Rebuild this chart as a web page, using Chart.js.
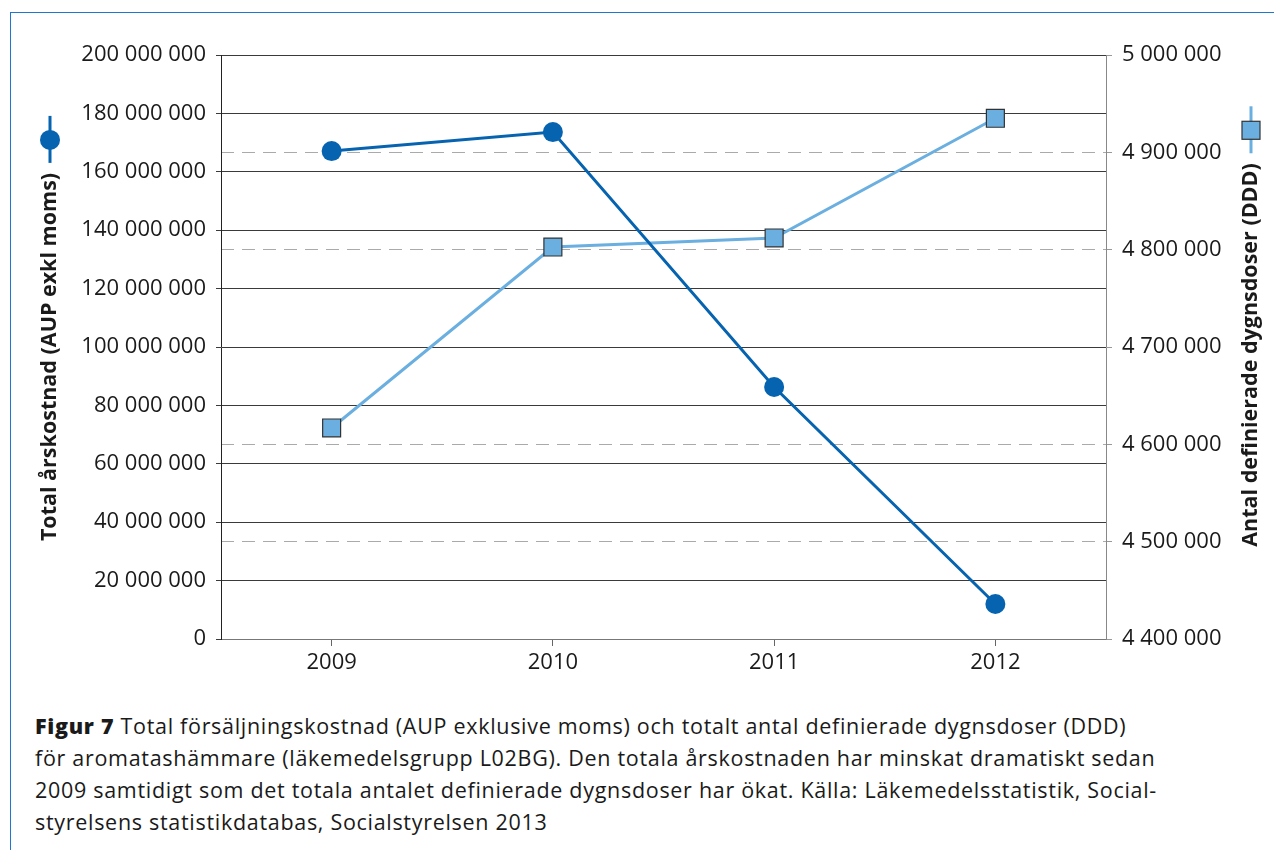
<!DOCTYPE html>
<html lang="sv">
<head>
<meta charset="utf-8">
<title>Figur 7</title>
<script src="https://cdn.jsdelivr.net/npm/chart.js@4"></script>
<style>
    body { margin: 0; background: #fff; font-family: "Open Sans", sans-serif; }
    .frame {
        position: absolute; left: 10px; top: 12px; width: 1300px; height: 900px;
        border-top: 1px solid #1f78cc; border-left: 1px solid #1f78cc;
    }
    #chartBox { position: absolute; left: 0; top: 0; }
    .caption {
        position: absolute; left: 35px; top: 710px;
        font-size: 21.5px; letter-spacing: 0.7px; line-height: 32px; color: #1a1a1a;
        white-space: nowrap;
    }
    .caption b { font-weight: 800; }
</style>
</head>
<body>
<div class="frame"></div>
<canvas id="chartBox" width="1274" height="700"></canvas>
<div class="caption">
    <b>Figur 7</b> Total försäljningskostnad (AUP exklusive moms) och totalt antal definierade dygnsdoser (DDD)<br>
    för aromatashämmare (läkemedelsgrupp L02BG). Den totala årskostnaden har minskat dramatiskt sedan<br>
    2009 samtidigt som det totala antalet definierade dygnsdoser har ökat. Källa: Läkemedelsstatistik, Social-<br>
    styrelsens statistikdatabas, Socialstyrelsen 2013
</div>

<script>
// --- data ---
const years = ['2009', '2010', '2011', '2012'];
const costValues = [167100000, 173600000, 86300000, 12000000];   // Total årskostnad (AUP exkl moms)
const dddValues = [4616800, 4802700, 4812000, 4935000];          // Antal DDD

const leftTitle = 'Total årskostnad (AUP exkl moms)';
const rightTitle = 'Antal definierade dygnsdoser (DDD)';

const darkBlue = '#0563b0';
const lightBlue = '#6aafe0';

// mellanslag som tusentalsavgränsare
function fmt(v) {
    return String(Math.round(v)).replace(/\B(?=(\d{3})+(?!\d))/g, ' ');
}

// axeltitlar med symbol (ritas själv för att få symbolen på slutet)
const axisTitlePlugin = {
    id: 'axisTitles',
    afterDraw(chart) {
        const ctx = chart.ctx;
        const area = chart.chartArea;
        const midY = (area.top + area.bottom) / 2 + 10;
        ctx.save();
        ctx.font = 'bold 21.5px "Open Sans"';
        ctx.fillStyle = '#1a1a1a';
        ctx.textAlign = 'center';
        ctx.textBaseline = 'middle';

        const drawTitle = (text, x, y, marker) => {
            const w = ctx.measureText(text).width;
            ctx.save();
            ctx.translate(x, y);
            ctx.rotate(-Math.PI / 2);
            ctx.fillText(text, 0, 0);
            ctx.restore();
            const end = y - w / 2;
            // liten linje + symbol
            ctx.strokeStyle = marker === 'circle' ? darkBlue : lightBlue;
            ctx.lineWidth = 3;
            ctx.beginPath();
            ctx.moveTo(x, end - 10);
            ctx.lineTo(x, end - 57);
            ctx.stroke();
            const cy = end - 33;
            if (marker === 'circle') {
                ctx.fillStyle = darkBlue;
                ctx.beginPath();
                ctx.arc(x, cy, 10, 0, Math.PI * 2);
                ctx.fill();
            } else {
                ctx.fillStyle = lightBlue;
                ctx.strokeStyle = '#333';
                ctx.lineWidth = 1.2;
                ctx.fillRect(x - 9, cy - 9, 18, 18);
                ctx.strokeRect(x - 9, cy - 9, 18, 18);
            }
            ctx.fillStyle = '#1a1a1a';
        };

        drawTitle(leftTitle, 50, midY, 'circle');
        drawTitle(rightTitle, 1251, midY - 2, 'rect');
        ctx.restore();
    }
};

const ctx = document.getElementById('chartBox').getContext('2d');
new Chart(ctx, {
    type: 'line',
    data: {
        labels: years,
        datasets: [
            {
                label: leftTitle,
                data: costValues,
                yAxisID: 'yCost',
                borderColor: darkBlue,
                backgroundColor: darkBlue,
                borderWidth: 3,
                pointStyle: 'circle',
                pointRadius: 10,
                pointHoverRadius: 10,
                pointBorderWidth: 0
            },
            {
                label: rightTitle,
                data: dddValues,
                yAxisID: 'yDdd',
                borderColor: lightBlue,
                backgroundColor: lightBlue,
                borderWidth: 3,
                pointStyle: 'rect',
                pointRadius: 12.7,
                pointHoverRadius: 12.7,
                pointBorderColor: '#333',
                pointBorderWidth: 1.2
            }
        ]
    },
    options: {
        responsive: false,
        animation: false,
        layout: { padding: { top: 55, left: 0, right: 0, bottom: 0 } },
        plugins: {
            legend: { display: false },
            tooltip: { enabled: false }
        },
        scales: {
            x: {
                offset: true,
                afterFit: s => { s.height = 61; },
                grid: { drawOnChartArea: false, drawTicks: true, tickLength: 7, tickColor: '#666' },
                border: { color: '#777', width: 1 },
                ticks: { color: '#1a1a1a', font: { family: 'Open Sans', size: 22 }, padding: 4 }
            },
            yCost: {
                position: 'left',
                min: 0,
                max: 200000000,
                afterFit: s => { s.width = 221; },
                grid: { color: '#3a3a3a', tickLength: 5, tickColor: '#3a3a3a' },
                border: { color: '#222', width: 1 },
                ticks: {
                    stepSize: 20000000,
                    color: '#1a1a1a',
                    padding: 10,
                    font: { family: 'Open Sans', size: 22 },
                    callback: v => fmt(v)
                }
            },
            yDdd: {
                position: 'right',
                min: 4400000,
                max: 5000000,
                afterFit: s => { s.width = 168; },
                grid: {
                    color: c => (c.index === 0 || c.index === 3 || c.index === 6) ? 'rgba(0,0,0,0)' : '#aaa',
                    tickColor: '#999',
                    tickLength: 6
                },
                border: { color: '#888', width: 1, dash: [13, 8] },
                ticks: {
                    stepSize: 100000,
                    color: '#1a1a1a',
                    padding: 10,
                    font: { family: 'Open Sans', size: 22 },
                    callback: v => fmt(v)
                }
            }
        }
    },
    plugins: [axisTitlePlugin]
});
</script>
</body>
</html>
